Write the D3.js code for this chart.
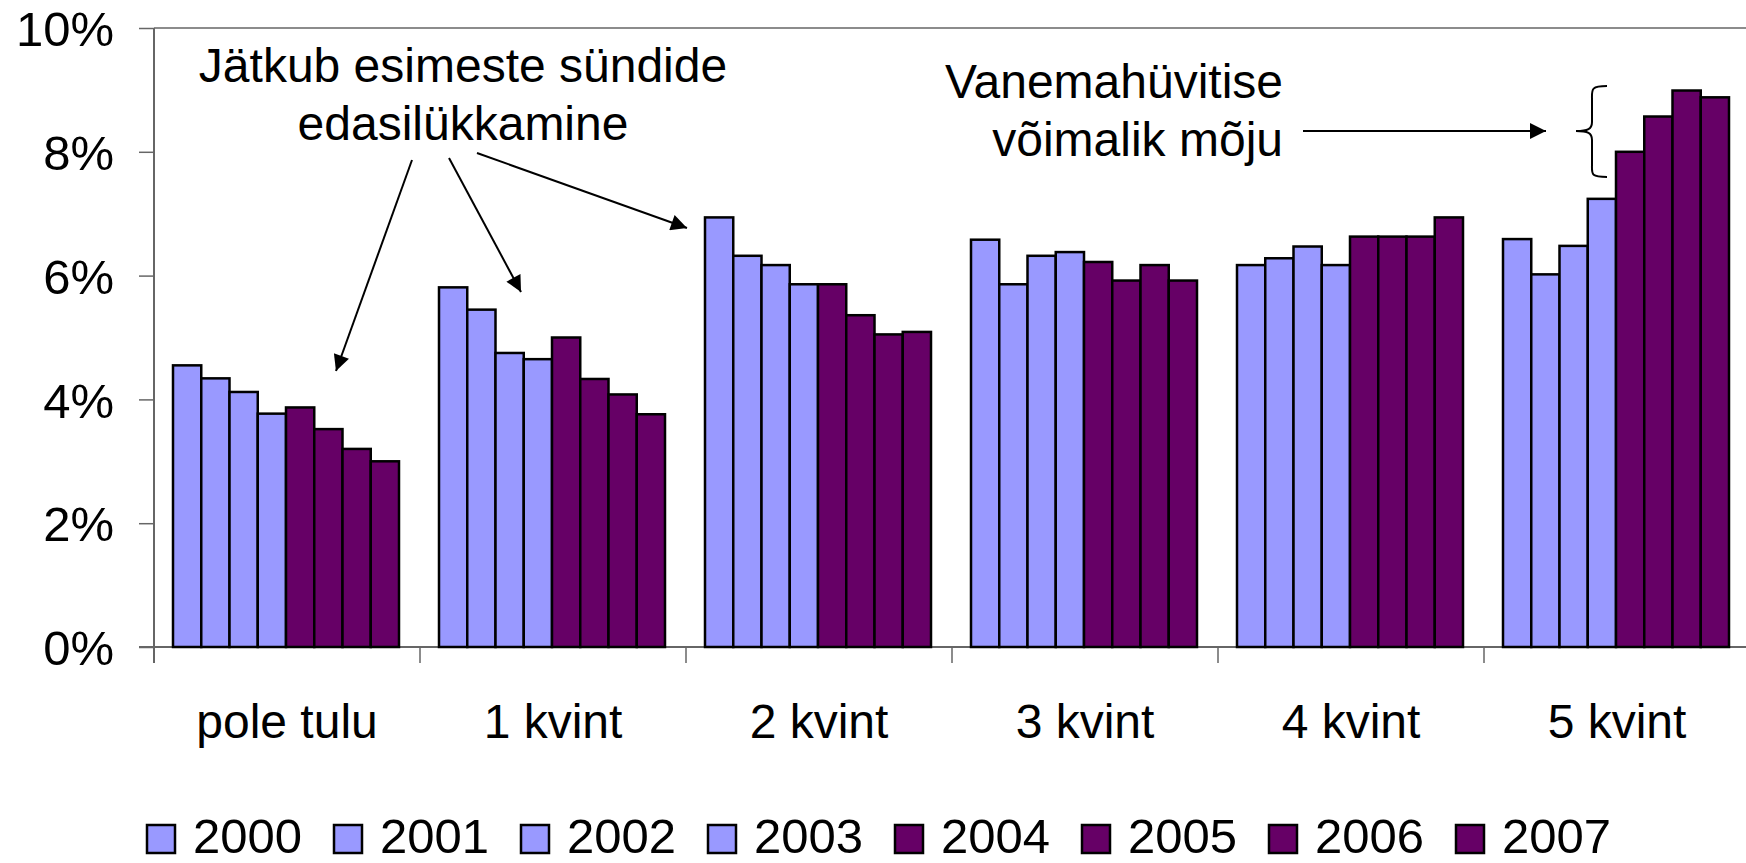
<!DOCTYPE html>
<html>
<head>
<meta charset="utf-8">
<script src="https://cdn.jsdelivr.net/npm/d3@7"></script>
<style>
  html, body { margin: 0; padding: 0; background: #fff; }
  svg { display: block; font-family: "Liberation Sans", Arial, sans-serif; }
</style>
</head>
<body>
<svg id="chart" width="1746" height="863"></svg>
<script>
// --- Data ---
const categories = ["pole tulu", "1 kvint", "2 kvint", "3 kvint", "4 kvint", "5 kvint"];
const years = ["2000", "2001", "2002", "2003", "2004", "2005", "2006", "2007"];
// share (%) per year, one array per category
const poleTulu = [4.55, 4.34, 4.12, 3.77, 3.87, 3.52, 3.20, 3.00];
const kvint1   = [5.81, 5.45, 4.75, 4.65, 5.00, 4.33, 4.08, 3.76];
const kvint2   = [6.94, 6.32, 6.17, 5.86, 5.86, 5.36, 5.05, 5.09];
const kvint3   = [6.58, 5.86, 6.32, 6.38, 6.22, 5.92, 6.17, 5.92];
const kvint4   = [6.17, 6.28, 6.47, 6.17, 6.63, 6.63, 6.63, 6.94];
const kvint5   = [6.59, 6.02, 6.48, 7.24, 8.00, 8.57, 8.99, 8.88];
const seriesByCategory = [poleTulu, kvint1, kvint2, kvint3, kvint4, kvint5];
const yTicks = [0, 2, 4, 6, 8, 10];

const lightColor = "#9999ff";
const darkColor = "#660066";
const colorFor = yr => (+yr < 2004 ? lightColor : darkColor);

// --- Layout ---
const svg = d3.select("#chart");
const plotLeft = 154, plotRight = 1750, plotTop = 28, plotBottom = 647;
const fontFamily = '"Liberation Sans", Arial, sans-serif';

const x0 = d3.scaleBand().domain(categories).range([plotLeft, plotRight]);
const x1 = d3.scaleBand().domain(years).range([19, 245]);
const y = d3.scaleLinear().domain([0, 10]).range([plotBottom, plotTop]);

// plot top border
svg.append("line")
    .attr("x1", plotLeft).attr("x2", 1746)
    .attr("y1", plotTop).attr("y2", plotTop)
    .attr("stroke", "#8c8c8c").attr("stroke-width", 2);

// --- Y axis ---
const yAxis = svg.append("g")
    .attr("transform", `translate(${plotLeft},0)`)
    .call(d3.axisLeft(y).tickValues(yTicks).tickSize(15).tickFormat(d => d + "%"));
yAxis.select(".domain").attr("stroke", "#666").attr("stroke-width", 2)
    .attr("d", `M0,${plotTop}V${plotBottom + 16}`);
yAxis.selectAll(".tick line").attr("stroke", "#666").attr("stroke-width", 1.5);
yAxis.selectAll(".tick text")
    .attr("x", -40)
    .attr("dy", "0.36em")
    .attr("font-size", 49)
    .attr("font-family", fontFamily)
    .attr("fill", "#000");

// --- X axis ---
const xAxis = svg.append("g")
    .attr("transform", `translate(0,${plotBottom})`)
    .call(d3.axisBottom(x0).tickSize(0).tickPadding(0));
xAxis.select(".domain").attr("stroke", "#666").attr("stroke-width", 2)
    .attr("d", `M${plotLeft - 15},0H1746`);
xAxis.selectAll(".tick text")
    .attr("y", 91)
    .attr("dy", 0)
    .attr("font-size", 48)
    .attr("font-family", fontFamily)
    .attr("fill", "#000");
// category separator ticks
svg.append("g").selectAll("line")
    .data(categories)
    .enter()
    .append("line")
    .attr("x1", d => x0(d)).attr("x2", d => x0(d))
    .attr("y1", plotBottom).attr("y2", plotBottom + 16)
    .attr("stroke", "#666").attr("stroke-width", 1.5);

// --- Bars ---
const groups = svg.append("g").selectAll("g")
    .data(categories)
    .enter()
    .append("g")
    .attr("transform", d => `translate(${x0(d)},0)`);

groups.selectAll("rect")
    .data((d, i) => years.map((yr, j) => ({ year: yr, value: seriesByCategory[i][j] })))
    .enter()
    .append("rect")
    .attr("x", d => x1(d.year))
    .attr("width", x1.bandwidth())
    .attr("y", d => y(d.value))
    .attr("height", d => plotBottom - y(d.value))
    .attr("fill", d => colorFor(d.year))
    .attr("stroke", "#000")
    .attr("stroke-width", 2.5);

// --- Legend ---
const legend = svg.append("g").selectAll("g")
    .data(years)
    .enter()
    .append("g")
    .attr("transform", (d, i) => `translate(${147 + i * 187},825)`);
legend.append("rect")
    .attr("width", 28).attr("height", 28)
    .attr("fill", d => colorFor(d))
    .attr("stroke", "#000").attr("stroke-width", 2.5);
legend.append("text")
    .text(d => d)
    .attr("x", 46).attr("y", 28)
    .attr("font-size", 49)
    .attr("font-family", fontFamily);

// --- Annotations ---
svg.append("defs").append("marker")
    .attr("id", "arrow")
    .attr("viewBox", "0 0 10 10")
    .attr("refX", 10).attr("refY", 5)
    .attr("markerWidth", 22).attr("markerHeight", 16)
    .attr("markerUnits", "userSpaceOnUse")
    .attr("orient", "auto")
    .append("path").attr("d", "M0,0L10,5L0,10Z").attr("fill", "#000");

const note1 = svg.append("text")
    .attr("text-anchor", "middle")
    .attr("font-size", 48)
    .attr("font-family", fontFamily);
note1.append("tspan").attr("x", 463).attr("y", 82).text("Jätkub esimeste sündide");
note1.append("tspan").attr("x", 463).attr("y", 140).text("edasilükkamine");

const note2 = svg.append("text")
    .attr("text-anchor", "end")
    .attr("font-size", 48)
    .attr("font-family", fontFamily);
note2.append("tspan").attr("x", 1283).attr("y", 98).text("Vanemahüvitise");
note2.append("tspan").attr("x", 1283).attr("y", 156).text("võimalik mõju");

const arrows = [
    [412, 160, 336, 371],
    [449, 158, 521, 292],
    [477, 153, 687, 228],
    [1303, 131, 1546, 131]
];
svg.append("g").selectAll("line")
    .data(arrows)
    .enter()
    .append("line")
    .attr("x1", d => d[0]).attr("y1", d => d[1])
    .attr("x2", d => d[2]).attr("y2", d => d[3])
    .attr("stroke", "#000").attr("stroke-width", 2)
    .attr("marker-end", "url(#arrow)");

// curly brace
svg.append("path")
    .attr("d", "M1607,86 C1590,86 1592,90 1592,100 L1592,122 C1592,129 1588,131 1576,131 C1588,131 1592,133 1592,140 L1592,164 C1592,174 1590,177 1607,177")
    .attr("fill", "none")
    .attr("stroke", "#000")
    .attr("stroke-width", 2);
</script>
</body>
</html>
